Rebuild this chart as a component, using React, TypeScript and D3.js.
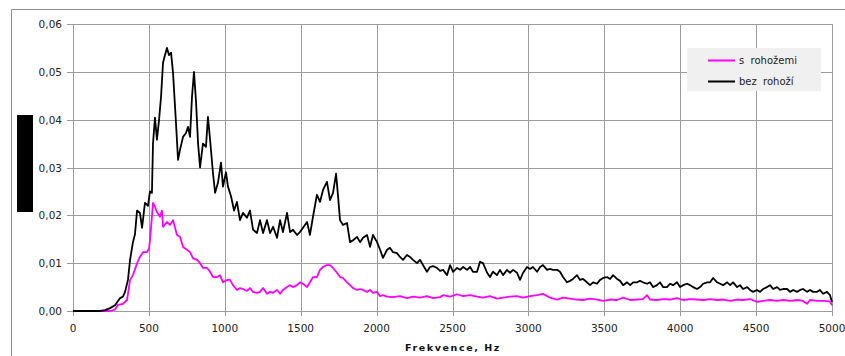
import React from "react";
import * as d3 from "d3";

// frequency axis ticks (Hz) and value ticks
const xTicks = [0, 500, 1000, 1500, 2000, 2500, 3000, 3500, 4000, 4500, 5000];
const yTicks = [0, 0.01, 0.02, 0.03, 0.04, 0.05, 0.06];

const seriesNames = ["s  rohožemi", "bez  rohoží"];

// "bez rohoží" (black)
const bezFreq = [
  0, 178, 211, 244, 277, 310, 329, 343, 362, 376, 395, 408, 422, 441, 455, 474, 494, 507, 520, 527,
  540, 553, 567, 580, 593, 606, 619, 632, 646, 659, 679, 692, 705, 725, 744, 758, 771, 784, 797, 810,
  824, 837, 856, 876, 889, 903, 922, 936, 955, 975, 988, 1008, 1021, 1041, 1061, 1080, 1100, 1120, 1146, 1166,
  1186, 1212, 1232, 1252, 1278, 1298, 1318, 1344, 1364, 1383, 1410, 1430, 1449, 1476, 1495, 1515, 1542, 1561, 1581, 1607,
  1627, 1647, 1673, 1693, 1713, 1733, 1746, 1759, 1779, 1805, 1825, 1845, 1871, 1891, 1911, 1937, 1957, 1976, 2003, 2023,
  2042, 2069, 2088, 2108, 2134, 2154, 2174, 2200, 2220, 2240, 2266, 2286, 2306, 2332, 2352, 2372, 2398, 2418, 2438, 2464,
  2484, 2504, 2530, 2550, 2570, 2596, 2616, 2635, 2662, 2681, 2701, 2728, 2747, 2767, 2793, 2813, 2833, 2859, 2879, 2899,
  2925, 2945, 2965, 2991, 3011, 3030, 3057, 3077, 3096, 3123, 3142, 3162, 3189, 3208, 3228, 3254, 3274, 3294, 3320, 3340,
  3360, 3386, 3406, 3426, 3452, 3472, 3492, 3518, 3538, 3558, 3584, 3604, 3624, 3650, 3670, 3690, 3716, 3735, 3755, 3782,
  3801, 3821, 3847, 3867, 3887, 3913, 3933, 3953, 3979, 3999, 4019, 4045, 4065, 4085, 4111, 4131, 4151, 4177, 4197, 4217,
  4243, 4263, 4283, 4309, 4329, 4348, 4375, 4394, 4414, 4441, 4460, 4480, 4506, 4526, 4546, 4572, 4592, 4612, 4638, 4658,
  4678, 4704, 4724, 4744, 4770, 4790, 4809, 4836, 4855, 4875, 4902, 4921, 4941, 4967, 4987, 5000,
];
const bezVal = [
  0, 0, 0.0002, 0.0006, 0.0012, 0.0027, 0.003, 0.004, 0.0065, 0.0107, 0.0144, 0.016, 0.021, 0.0205, 0.0174, 0.0226, 0.022, 0.025, 0.0247, 0.035,
  0.0404, 0.0358, 0.04, 0.0448, 0.0519, 0.0535, 0.055, 0.0535, 0.054, 0.0498, 0.039, 0.0316, 0.0337, 0.0364, 0.0372, 0.0385, 0.0364, 0.0448, 0.05, 0.044,
  0.035, 0.03, 0.035, 0.0343, 0.0406, 0.0358, 0.0289, 0.0247, 0.0268, 0.031, 0.026, 0.029, 0.026, 0.024, 0.021, 0.0228, 0.019, 0.0205, 0.0195, 0.021,
  0.017, 0.0163, 0.019, 0.0163, 0.019, 0.0163, 0.0176, 0.0153, 0.019, 0.0165, 0.0205, 0.0165, 0.017, 0.0159, 0.0165, 0.0174, 0.0186, 0.0159, 0.0197, 0.0243,
  0.0228, 0.0253, 0.027, 0.0232, 0.0247, 0.0287, 0.024, 0.019, 0.018, 0.0184, 0.0144, 0.0148, 0.0155, 0.0144, 0.0153, 0.0159, 0.0134, 0.0159, 0.0144, 0.0128,
  0.0111, 0.0128, 0.0132, 0.0123, 0.0121, 0.0113, 0.0107, 0.0117, 0.0113, 0.0107, 0.01, 0.0107, 0.0096, 0.0082, 0.0092, 0.0094, 0.009, 0.0084, 0.0086, 0.0075,
  0.0096, 0.0082, 0.009, 0.0086, 0.0092, 0.0086, 0.0092, 0.0082, 0.0082, 0.0103, 0.01, 0.008, 0.0071, 0.0082, 0.0075, 0.0086, 0.0075, 0.0086, 0.008, 0.0086,
  0.008, 0.0065, 0.008, 0.0092, 0.0088, 0.0092, 0.0082, 0.0092, 0.0096, 0.0086, 0.0088, 0.0086, 0.0086, 0.0082, 0.0071, 0.006, 0.0063, 0.0067, 0.0075, 0.0065,
  0.0067, 0.006, 0.0054, 0.006, 0.0057, 0.0065, 0.0069, 0.0071, 0.0067, 0.0075, 0.0067, 0.0063, 0.0054, 0.006, 0.0054, 0.006, 0.006, 0.0063, 0.006, 0.0057,
  0.006, 0.005, 0.0054, 0.006, 0.005, 0.005, 0.0057, 0.0054, 0.006, 0.005, 0.0054, 0.0057, 0.0054, 0.005, 0.0046, 0.005, 0.0057, 0.006, 0.006, 0.0069,
  0.006, 0.0057, 0.0054, 0.006, 0.0054, 0.006, 0.005, 0.0054, 0.0046, 0.005, 0.0044, 0.004, 0.0044, 0.004, 0.0046, 0.005, 0.0054, 0.0046, 0.005, 0.0044,
  0.0046, 0.0046, 0.004, 0.0044, 0.004, 0.0044, 0.0046, 0.004, 0.0044, 0.004, 0.004, 0.0044, 0.0036, 0.004, 0.0033, 0.0019,
];

// "s rohožemi" (magenta)
const sFreq = [
  0, 244, 277, 296, 329, 356, 376, 395, 422, 441, 461, 487, 501, 507, 520, 527, 540, 553, 573, 586,
  593, 619, 639, 659, 685, 705, 725, 751, 771, 791, 817, 837, 856, 883, 903, 922, 949, 968, 988, 1015,
  1034, 1054, 1080, 1100, 1120, 1146, 1166, 1186, 1212, 1232, 1252, 1278, 1298, 1318, 1344, 1364, 1383, 1410, 1430, 1449,
  1476, 1495, 1515, 1542, 1561, 1581, 1607, 1627, 1647, 1673, 1693, 1713, 1739, 1759, 1779, 1805, 1825, 1845, 1871, 1891,
  1911, 1937, 1957, 1976, 2003, 2023, 2042, 2069, 2108, 2154, 2200, 2240, 2286, 2332, 2372, 2418, 2438, 2484, 2530, 2570,
  2616, 2662, 2701, 2747, 2793, 2833, 2879, 2925, 2965, 3011, 3057, 3096, 3142, 3189, 3228, 3274, 3320, 3360, 3406, 3452,
  3492, 3538, 3584, 3624, 3670, 3716, 3755, 3782, 3801, 3847, 3887, 3933, 3979, 4019, 4065, 4111, 4151, 4197, 4243, 4283,
  4329, 4375, 4414, 4460, 4506, 4546, 4592, 4638, 4678, 4724, 4770, 4809, 4836, 4855, 4902, 4941, 4987, 5000,
];
const sVal = [
  0, 0, 0.0003, 0.0013, 0.0015, 0.0023, 0.0065, 0.0075, 0.01, 0.0113, 0.0123, 0.0123, 0.013, 0.0148, 0.0197, 0.0226, 0.0218, 0.0207, 0.0197, 0.021,
  0.0176, 0.0186, 0.018, 0.019, 0.0159, 0.0155, 0.0134, 0.0128, 0.0123, 0.011, 0.0107, 0.01, 0.009, 0.009, 0.0082, 0.0071, 0.0071, 0.0075, 0.006, 0.0065,
  0.0065, 0.0054, 0.0044, 0.0048, 0.0046, 0.0042, 0.0048, 0.004, 0.0038, 0.004, 0.0048, 0.0036, 0.004, 0.0038, 0.0044, 0.0036, 0.0044, 0.005, 0.0054, 0.005,
  0.0054, 0.006, 0.0057, 0.005, 0.006, 0.0071, 0.0071, 0.0086, 0.0092, 0.0096, 0.0096, 0.009, 0.008, 0.0071, 0.0069, 0.006, 0.0054, 0.0048, 0.0044, 0.0046,
  0.0044, 0.004, 0.0044, 0.0038, 0.004, 0.0031, 0.0033, 0.003, 0.0029, 0.0031, 0.0027, 0.003, 0.0028, 0.0031, 0.0027, 0.0029, 0.0033, 0.003, 0.0035, 0.0031,
  0.0033, 0.003, 0.0028, 0.0031, 0.0026, 0.0028, 0.003, 0.0031, 0.0028, 0.0031, 0.0033, 0.0036, 0.0028, 0.0024, 0.0028, 0.0026, 0.0024, 0.0023, 0.0026, 0.0024,
  0.0021, 0.0024, 0.0023, 0.0028, 0.0023, 0.0024, 0.0025, 0.0033, 0.0024, 0.0023, 0.0025, 0.0024, 0.0027, 0.0023, 0.0025, 0.0024, 0.0023, 0.0025, 0.0023, 0.0024,
  0.0021, 0.0024, 0.0023, 0.0025, 0.0019, 0.0021, 0.0023, 0.0021, 0.0023, 0.0021, 0.0023, 0.0021, 0.0015, 0.0023, 0.0021, 0.0021, 0.002, 0.0012,
];

const W = 845;
const H = 356;
const margin = { left: 73, right: 13, top: 24, bottom: 45 };
const font = "'DejaVu Sans', Verdana, sans-serif";
const grid = "#9c9c9c";

export default function App() {
  const x = d3.scaleLinear().domain([0, 5000]).range([margin.left, W - margin.right]);
  const y = d3.scaleLinear().domain([0, 0.06]).range([H - margin.bottom, margin.top]);

  const line = d3
    .line<[number, number]>()
    .x((d) => x(d[0]))
    .y((d) => y(d[1]));

  const bezPath = line(bezFreq.map((f, i) => [f, bezVal[i]]) as [number, number][]) || "";
  const sPath = line(sFreq.map((f, i) => [f, sVal[i]]) as [number, number][]) || "";
  const fmt = (v: number) => d3.format(".2f")(v).replace(".", ",");

  const x0 = x(0);
  const y0 = y(0);

  return (
    <svg width={W} height={H} style={{ position: "absolute", left: 0, top: 0, background: "#fff" }}>
      {/* outer frame */}
      <line x1={11.5} y1={9.5} x2={W} y2={9.5} stroke="#8c8c8c" />
      <line x1={11.5} y1={9.5} x2={11.5} y2={H} stroke="#8c8c8c" />

      {/* grid */}
      {yTicks.map((t) => (
        <line key={"gy" + t} x1={x0} x2={x(5000)} y1={Math.round(y(t)) + 0.5} y2={Math.round(y(t)) + 0.5} stroke={grid} />
      ))}
      {xTicks.map((t) => (
        <line key={"gx" + t} x1={Math.round(x(t)) + 0.5} x2={Math.round(x(t)) + 0.5} y1={y(0.06)} y2={y0 + 5} stroke={grid} />
      ))}
      {yTicks.map((t) => (
        <line key={"ty" + t} x1={x0 - 6} x2={x0} y1={Math.round(y(t)) + 0.5} y2={Math.round(y(t)) + 0.5} stroke={grid} />
      ))}

      {/* y labels */}
      {yTicks.map((t) => (
        <text key={"ly" + t} x={62} y={y(t) + 4} textAnchor="end" fontFamily={font} fontSize={10.5} fill="#222">
          {fmt(t)}
        </text>
      ))}
      {/* x labels */}
      {xTicks.map((t) => (
        <text key={"lx" + t} x={x(t)} y={332} textAnchor="middle" fontFamily={font} fontSize={10.5} fill="#222">
          {t}
        </text>
      ))}
      <text x={453} y={351} textAnchor="middle" fontFamily={font} fontSize={9.5} fontWeight="bold" letterSpacing={1.6} fill="#111">
        Frekvence, Hz
      </text>

      {/* y title shown as a black block */}
      <rect x={17} y={115} width={16} height={97} fill="#000" />

      {/* series */}
      <path d={sPath} fill="none" stroke="#ff00ff" strokeWidth={1.8} strokeLinejoin="round" />
      <path d={bezPath} fill="none" stroke="#000" strokeWidth={1.8} strokeLinejoin="round" />

      {/* legend */}
      <rect x={687} y={48} width={134} height={43} fill="#f0f0f0" />
      <line x1={708} x2={735} y1={60.5} y2={60.5} stroke="#ff00ff" strokeWidth={2} />
      <line x1={708} x2={735} y1={81.5} y2={81.5} stroke="#000" strokeWidth={2} />
      <text x={739} y={64} fontFamily={font} fontSize={10} fill="#222" style={{ whiteSpace: "pre" }}>
        {seriesNames[0]}
      </text>
      <text x={739} y={85} fontFamily={font} fontSize={10} fill="#222" style={{ whiteSpace: "pre" }}>
        {seriesNames[1]}
      </text>
    </svg>
  );
}
